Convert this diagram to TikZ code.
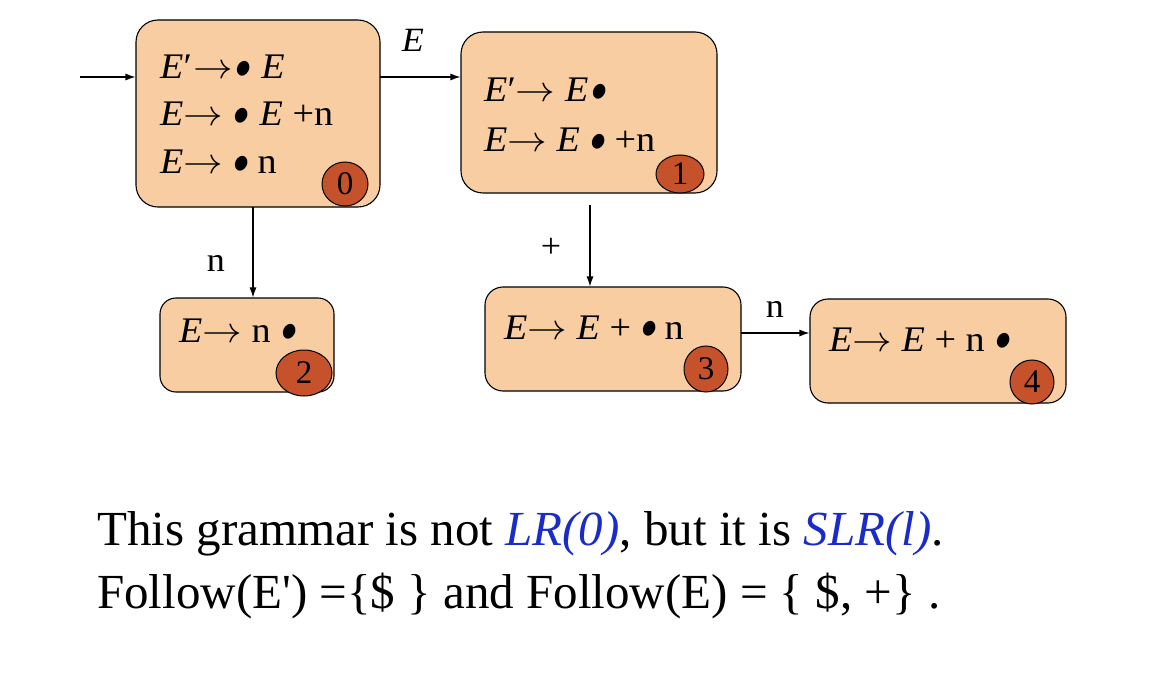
\RequirePackage{fix-cm}
\documentclass[tikz,border=0pt]{standalone}
\usepackage{fontspec}
\setmainfont{Liberation Serif}
\newfontfamily\itemfont[FakeStretch=1.06]{Liberation Serif}
\usetikzlibrary{shapes.geometric,arrows.meta}
\definecolor{boxfill}{HTML}{F7CDA1}
\definecolor{numfill}{HTML}{C5522B}
\definecolor{slrblue}{HTML}{1A2BC8}
\newcommand{\bul}{\makebox[0.5em]{\rotatebox[origin=c]{-25}{\scalebox{0.85}[1.1]{$\bullet$}}}}
\newcommand{\arr}{\scalebox{1.1}[1]{$\rightarrow$}}
\tikzset{
  state/.style={draw=black, line width=1.1pt, fill=boxfill, rounded corners=22pt, inner sep=0pt},
  item/.style={anchor=base west, inner sep=0pt, font=\itemfont\fontsize{36}{40}\selectfont},
  num/.style={ellipse, draw=black, line width=1pt, fill=numfill, inner sep=0pt, font=\fontsize{33}{36}\selectfont},
  edge/.style={line width=1.1pt, -{Latex[length=10pt,width=7pt]}},
  lbl/.style={inner sep=0pt, font=\itemfont\fontsize{34}{38}\selectfont},
  para/.style={anchor=base west, inner sep=0pt, font=\fontsize{49}{54}\selectfont},
}
\begin{document}
\begin{tikzpicture}[x=1pt,y=-1pt]
\useasboundingbox (0,0) rectangle (1168,682);
% states
\node[state, minimum width=244pt, minimum height=187pt] (b0) at (258,113.5) {};
\node[state, minimum width=256pt, minimum height=161pt] (b1) at (589,112.5) {};
\node[state, minimum width=174pt, minimum height=94pt, rounded corners=16pt] (b2) at (247,345) {};
\node[state, minimum width=256pt, minimum height=104pt, rounded corners=18pt] (b3) at (613,339) {};
\node[state, minimum width=256pt, minimum height=104pt, rounded corners=18pt] (b4) at (938,351) {};
% items
\node[item] (i01) at (160,79) {\textit{E}′\kern2pt\arr\kern1pt\bul\kern9pt\textit{E}};
\node[item] (i02) at (160,126) {\textit{E}\arr\ \bul\kern9pt\textit{E} +n};
\node[item] (i03) at (160,174) {\textit{E}\arr\ \bul\kern7pt n};
\node[item] (i11) at (484,102) {\textit{E}′\arr\ \textit{E}\kern2pt\bul};
\node[item] (i12) at (484,152) {\textit{E}\arr\ \textit{E} \bul\kern7pt+n};
\node[item] (i21) at (179,342) {\textit{E}\arr\ n \bul};
\node[item] (i31) at (504,339) {\textit{E}\arr\ \textit{E} + \bul\kern6pt n};
\node[item] (i41) at (829,351) {\textit{E}\arr\ \textit{E} + n \bul};
% numbers
\node[num, minimum width=46pt, minimum height=44pt] (n0) at (345,184) {0};
\node[num, minimum width=48pt, minimum height=38pt] (n1) at (680,174) {1};
\node[num, minimum width=56pt, minimum height=46pt] (n2) at (304,373) {2};
\node[num, minimum width=44pt, minimum height=46pt] (n3) at (706,369) {3};
\node[num, minimum width=44pt, minimum height=44pt] (n4) at (1032,382) {4};
% edges
\coordinate (start) at (80,77);
\draw[edge] (start) -- (start -| b0.west);
\coordinate (e0) at (380,77);
\draw[edge] (e0) -- (e0 -| b1.west);
\node[lbl] (lE) at (413,40) {\textit{E}};
\coordinate (n0s) at (253,207);
\draw[edge] (n0s) -- (n0s |- b2.north);
\node[lbl] (ln) at (216,263) {n};
\coordinate (p0) at (590,205);
\draw[edge] (p0) -- (p0 |- b3.north);
\node[lbl] (lp) at (551,248) {+};
\coordinate (m0) at (741,333);
\draw[edge] (m0) -- (m0 -| b4.west);
\node[lbl] (ln2) at (775,309) {n};
% text
\node[para] (t1) at (97,545) {This grammar is not \textcolor{slrblue}{\textit{LR(0)}}, but it is \textcolor{slrblue}{\textit{SLR(l)}}.};
\node[para] (t2) at (97,608) {Follow(E\textquotesingle) =\{\$ \} and Follow(E) = \{ \$, +\} .};
\end{tikzpicture}
\end{document}
